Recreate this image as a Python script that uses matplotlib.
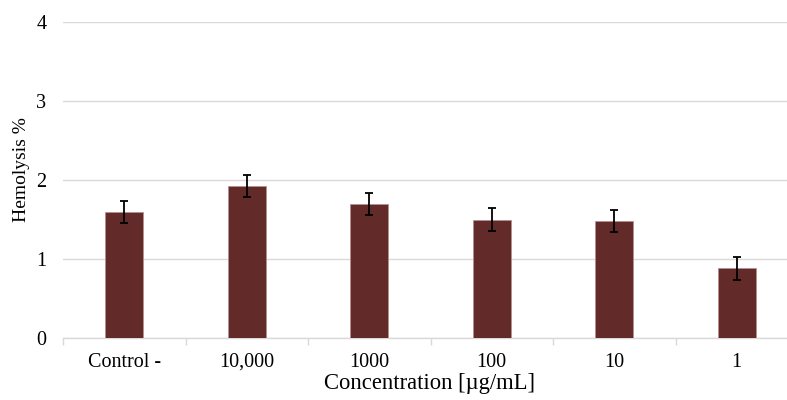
import matplotlib
matplotlib.use("Agg")
import matplotlib.pyplot as plt
import numpy as np

categories = ["Control -", "10,000", "1000", "100", "10", "1"]
hemolysis = [1.60, 1.92, 1.70, 1.50, 1.48, 0.88]
errors = [0.14, 0.14, 0.14, 0.14, 0.14, 0.15]
y_ticks = [0, 1, 2, 3, 4]

plt.rcParams["font.family"] = ["Liberation Serif", "DejaVu Serif"]

fig = plt.figure(figsize=(7.87, 4.0), dpi=100)
# axes extends slightly past the right edge of the canvas
ax = fig.add_axes([63 / 787, 62 / 400, (798 - 63) / 787, (338 - 22) / 400])

x = np.arange(len(categories))
ax.bar(x, hemolysis, width=0.31, color="#632a2a", edgecolor="#b89090",
       linewidth=0.6, zorder=3)
ax.errorbar(x, hemolysis, yerr=errors, fmt="none", ecolor="black",
            elinewidth=1.3, capsize=3, capthick=1.3, zorder=4)

ax.set_xlim(-0.5, len(categories) - 0.5)
ax.set_ylim(0, 4)
ax.set_yticks(y_ticks)
ax.set_yticklabels([str(t) for t in y_ticks], fontsize=14.5)
ax.yaxis.grid(True, color="#d9d9d9", linewidth=1.0, zorder=0)
ax.tick_params(axis="y", length=0, pad=12)

ax.set_xticks(x)
ax.set_xticklabels(categories, fontsize=14.5)
ax.tick_params(axis="x", which="major", length=0, pad=10.5)
ax.set_xticks(np.arange(-0.5, len(categories), 1.0), minor=True)
ax.tick_params(axis="x", which="minor", length=5, width=1.0, color="#d9d9d9",
               direction="out")

for side in ("top", "right", "left"):
    ax.spines[side].set_visible(False)
ax.spines["bottom"].set_color("#d9d9d9")
ax.spines["bottom"].set_linewidth(1.0)

fig.text(22 / 787, 1 - 170 / 400, "Hemolysis %", rotation=90,
         ha="center", va="center", fontsize=14)
fig.text(430 / 787, 1 - 384 / 400, "Concentration [µg/mL]",
         ha="center", va="center", fontsize=16.3)

fig.savefig("out.png", dpi=100)
